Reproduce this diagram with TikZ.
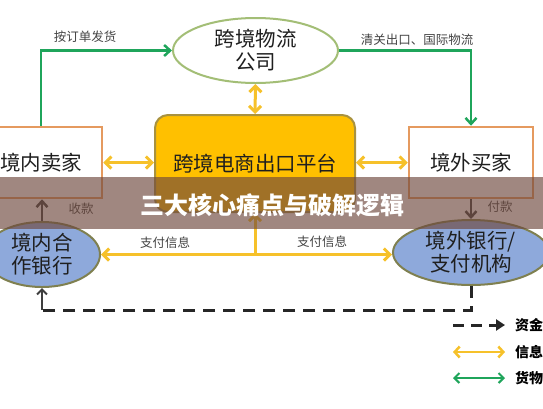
\documentclass[tikz,border=0pt]{standalone}
\usepackage{fontspec}
\setmainfont{Noto Sans CJK SC}
\usetikzlibrary{shapes.geometric,arrows.meta}
\definecolor{gline}{HTML}{1FA55B}
\definecolor{yline}{HTML}{F6C12A}
\definecolor{platfill}{HTML}{FFC000}
\definecolor{platedge}{HTML}{A89240}
\definecolor{boxedge}{HTML}{E59A5F}
\definecolor{logiedge}{HTML}{A3BE76}
\definecolor{bankfill}{HTML}{8EA9DB}
\definecolor{bankedge}{HTML}{7F8050}
\definecolor{darkline}{HTML}{3F3F3F}
\definecolor{banner}{RGB}{110,72,61}
\definecolor{lbl}{HTML}{444444}
\begin{document}
\begin{tikzpicture}[x=1pt,y=-1pt,
  bigtxt/.style={font=\fontsize{20.5}{23}\selectfont, text=black!88, align=center, inner sep=0pt},
  boxnode/.style={bigtxt, draw=boxedge, line width=2.5pt, fill=white, rectangle},
  ellnode/.style={bigtxt, ellipse, line width=2pt},
  lab/.style={font=\fontsize{12.5}{14}\selectfont, text=lbl, inner sep=0pt},
  goods/.style={draw=gline, line width=2.5pt, -{Straight Barb[length=6pt,width=11pt,line width=2.5pt]}},
  info/.style={draw=yline, line width=3pt, {Straight Barb[length=6pt,width=12pt,line width=3pt]}-{Straight Barb[length=6pt,width=12pt,line width=3pt]}},
  infoone/.style={draw=yline, line width=3pt, -{Straight Barb[length=6pt,width=12pt,line width=3pt]}},
  pay/.style={draw=darkline, line width=2.5pt, -{Straight Barb[length=6pt,width=11pt,line width=2.5pt]}},
  money/.style={draw=black!85, line width=3pt, dash pattern=on 12pt off 8pt},
  legtxt/.style={font=\fontsize{14}{16}\selectfont\bfseries, text=black, inner sep=0pt, anchor=west}
]
\useasboundingbox (0,0) rectangle (543,408);
\clip (0,0) rectangle (543,408);
\fill[white] (0,0) rectangle (543,408);

% nodes
\node[ellnode, draw=logiedge, fill=white, minimum width=165pt, minimum height=65pt] (logi) at (255.5,50.5) {跨境物流\\公司};
\node[bigtxt, draw=platedge, line width=2pt, fill=platfill, rounded corners=13pt, minimum width=200pt, minimum height=97pt] (plat) at (255,163.5) {跨境电商出口平台};
\node[boxnode, minimum width=122pt, minimum height=71pt] (seller) at (41,162.5) {境内卖家};
\node[boxnode, minimum width=124pt, minimum height=71pt] (buyer) at (471,162.5) {境外买家};
\node[ellnode, draw=bankedge, fill=bankfill, minimum width=116pt, minimum height=65pt] (dbank) at (42,254.5) {境内合\\作银行};
\node[ellnode, draw=bankedge, fill=bankfill, minimum width=156pt, minimum height=65pt] (fbank) at (471,252.5) {境外银行/\\支付机构};

% goods flow
\draw[goods] (seller.north) |- (logi.west);
\draw[goods] (logi.east) -| (buyer.north);
\node[lab] (l1) at (85,37) {按订单发货};
\node[lab] (l2) at (417,40) {清关出口、国际物流};

% information flow
\draw[info] (logi.south) -- (plat.north);
\draw[info] (seller.east) -- (seller.east -| plat.west);
\draw[info] (buyer.west -| plat.east) -- (buyer.west);
\coordinate (j) at (plat.south |- dbank.east);
\draw[info] (dbank.east) -- (dbank.east -| fbank.west);
\draw[infoone] (j) -- (plat.south);
\node[lab] (l3) at (165,243) {支付信息};
\node[lab] (l4) at (322,242) {支付信息};

% payment flow
\draw[pay] (dbank.north) -- (dbank.north |- seller.south);
\draw[pay] (buyer.south) -- (buyer.south |- fbank.north);
\node[lab] (l5) at (81,209) {收款};
\node[lab] (l6) at (500,207) {付款};
\coordinate (dc) at (42,310);
\draw[money] (fbank.south) |- (dc);
\draw[darkline, line width=2pt, -{Straight Barb[length=5pt,width=10pt,line width=2pt]}] (dc) -- (dbank.south);

% legend
\coordinate (m1) at (453,325); \coordinate (m2) at (505,325);
\coordinate (i1) at (453,352); \coordinate (i2) at (505,352);
\coordinate (g1) at (453,378); \coordinate (g2) at (505,378);
\draw[money, dash pattern=on 11pt off 7pt, -{Triangle[length=9pt,width=11pt]}] (m1) -- (m2);
\draw[yline, line width=2.5pt, {Straight Barb[length=5pt,width=11pt,line width=2.5pt]}-{Straight Barb[length=5pt,width=11pt,line width=2.5pt]}] (i1) -- (i2);
\draw[gline, line width=2pt, {Straight Barb[length=5pt,width=10pt,line width=2pt]}-{Straight Barb[length=5pt,width=10pt,line width=2pt]}] (g1) -- (g2);
\node[legtxt] (t1) at (515,325) {资金};
\node[legtxt] (t2) at (515,352) {信息};
\node[legtxt] (t3) at (515,378) {货物};

% banner overlay
\fill[banner, fill opacity=0.65] (0,177) rectangle (543,229);
\node[font=\fontsize{24}{26}\selectfont\bfseries, text=white, inner sep=0pt] (ban) at (272,205) {三大核心痛点与破解逻辑};
\end{tikzpicture}
\end{document}
